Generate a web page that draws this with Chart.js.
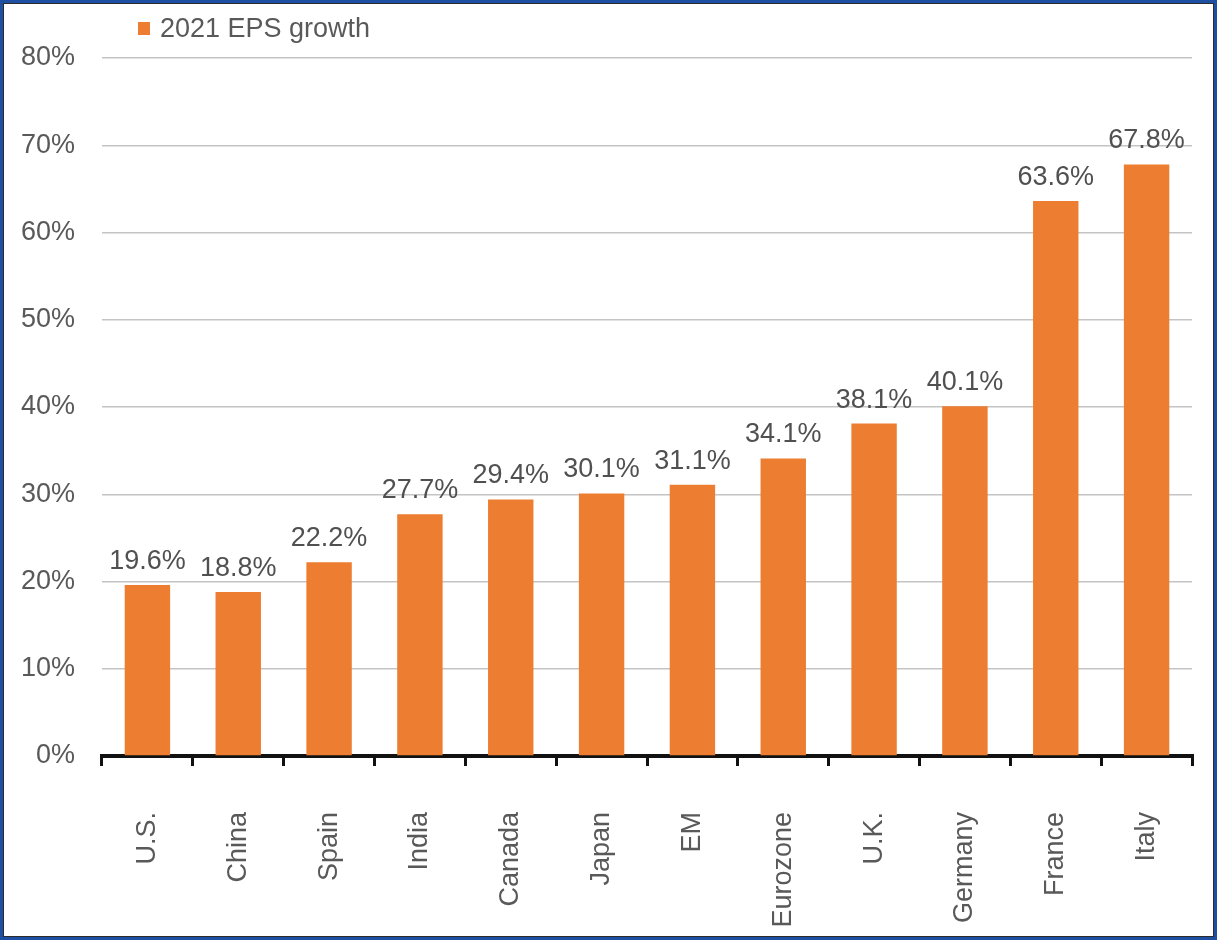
<!DOCTYPE html>
<html>
<head>
<meta charset="utf-8">
<title>2021 EPS growth</title>
<script src="https://cdn.jsdelivr.net/npm/chart.js@4.4.1/dist/chart.umd.min.js"></script>
<style>
  html, body { margin: 0; padding: 0; background: #fff; }
  #wrap { position: relative; width: 1217px; height: 940px; overflow: hidden; }
  #wrap canvas { position: absolute; left: 0; top: 0; }
  .frame {
    position: absolute; left: 0; top: 0; width: 1217px; height: 940px;
    box-sizing: border-box; border: 3px solid #1d4fa3;
    box-shadow: inset 0 0 0 1px #2b2b2b; pointer-events: none;
  }
  .legend {
    position: absolute; left: 138px; top: 15px; display: flex; align-items: center;
    font: 27px "Liberation Sans", Arial, sans-serif; line-height: 27px; color: #595959;
  }
  .legend i { display: inline-block; width: 12px; height: 13px; background: #ED7D31; margin-right: 10px; }
</style>
</head>
<body>
<div id="wrap">
  <canvas id="epsChart"></canvas>
  <div class="legend"><i></i><span>2021 EPS growth</span></div>
  <div class="frame"></div>
</div>
<script>
// categorias e valores
const paises = ['U.S.', 'China', 'Spain', 'India', 'Canada', 'Japan', 'EM', 'Eurozone', 'U.K.', 'Germany', 'France', 'Italy'];
const crescimentoEps = [19.6, 18.8, 22.2, 27.7, 29.4, 30.1, 31.1, 34.1, 38.1, 40.1, 63.6, 67.8];
const ticksY = [0, 10, 20, 30, 40, 50, 60, 70, 80];

const fonte = '"Liberation Sans", Arial, sans-serif';
const cinza = '#595959';
const laranja = '#ED7D31';

// rótulos de valor em cima de cada barra
const rotulosBarras = {
  id: 'rotulosBarras',
  afterDatasetsDraw(chart) {
    const ctx = chart.ctx;
    const meta = chart.getDatasetMeta(0);
    ctx.save();
    ctx.font = '27px ' + fonte;
    ctx.fillStyle = '#505050';
    ctx.textAlign = 'center';
    ctx.textBaseline = 'alphabetic';
    meta.data.forEach((bar, i) => {
      ctx.fillText(crescimentoEps[i].toFixed(1) + '%', bar.x, bar.y - 16);
    });
    ctx.restore();
  }
};

new Chart(document.getElementById('epsChart'), {
  type: 'bar',
  data: {
    labels: paises,
    datasets: [{
      label: '2021 EPS growth',
      data: crescimentoEps,
      backgroundColor: laranja,
      borderWidth: 0,
      categoryPercentage: 1,
      barPercentage: 0.5
    }]
  },
  options: {
    responsive: true,
    maintainAspectRatio: false,
    animation: false,
    layout: { padding: { left: 20, right: 25, top: 58, bottom: 7 } },
    plugins: {
      legend: { display: false },
      tooltip: { enabled: false }
    },
    scales: {
      x: {
        // altura fixa do eixo e sem folga lateral dos rótulos girados
        afterFit: (axis) => { axis.height = 177; axis.paddingLeft = 0; axis.paddingRight = 0; },
        grid: { offset: true, drawOnChartArea: false, drawTicks: true, tickLength: 10, color: '#111', lineWidth: 3 },
        border: { display: true, color: '#111', width: 4 },
        ticks: {
          minRotation: 90, maxRotation: 90, padding: 46,
          color: cinza, font: { family: fonte, size: 27 }
        }
      },
      y: {
        min: 0,
        max: 80,
        afterBuildTicks: (axis) => { axis.ticks = ticksY.map(v => ({ value: v })); },
        afterFit: (axis) => { axis.width = 82; },
        border: { display: false },
        grid: { drawTicks: false, color: '#c4c4c4', lineWidth: 1.5 },
        ticks: {
          padding: 27,
          color: cinza,
          font: { family: fonte, size: 27 },
          callback: (v) => v + '%'
        }
      }
    }
  },
  plugins: [rotulosBarras]
});
</script>
</body>
</html>
